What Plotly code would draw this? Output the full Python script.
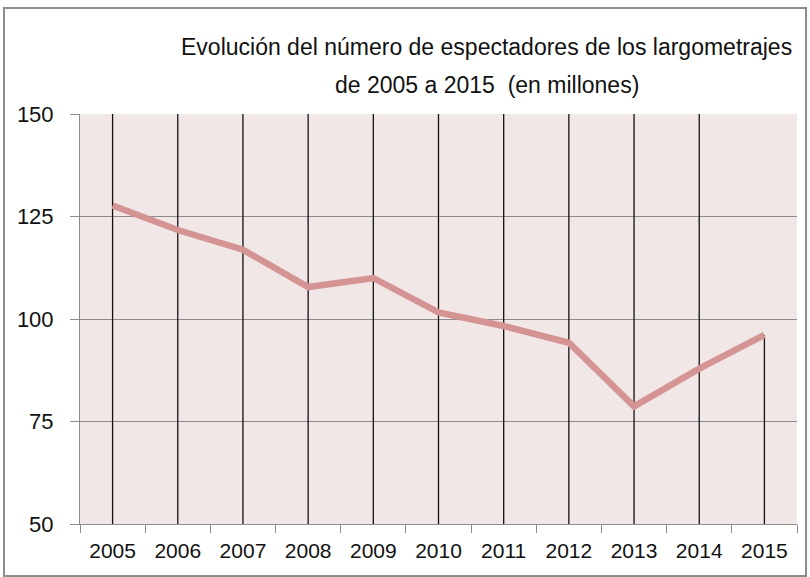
import plotly.graph_objects as go

years = [2005, 2006, 2007, 2008, 2009, 2010, 2011, 2012, 2013, 2014, 2015]
spectators = [127.7, 121.7, 116.9, 107.8, 110.0, 101.6, 98.3, 94.2, 78.7, 87.9, 96.1]
y_ticks = [50, 75, 100, 125, 150]
title_lines = ["Evolución del número de espectadores de los largometrajes",
               "de 2005 a 2015  (en millones)"]

Y_MIN, Y_MAX = 50, 150
FONT = "Liberation Sans, Arial, sans-serif"

# vertical lines: full height except last, which drops from the point
vx, vy = [], []
for i, (yr, v) in enumerate(zip(years, spectators)):
    top = v if i == len(years) - 1 else Y_MAX
    vx += [yr, yr, None]
    vy += [Y_MIN, top, None]

fig = go.Figure()
fig.add_trace(go.Scatter(x=vx, y=vy, mode="lines",
                         line=dict(color="#111111", width=1.3),
                         hoverinfo="skip", showlegend=False))
fig.add_trace(go.Scatter(x=years, y=spectators, mode="lines",
                         line=dict(color="#d49494", width=6.5),
                         showlegend=False))

boundaries = [y - 0.5 for y in years] + [years[-1] + 0.5]

fig.update_layout(
    width=810, height=577,
    margin=dict(l=80, r=13, t=114, b=53),
    paper_bgcolor="white",
    plot_bgcolor="#f2e7e7",
    font=dict(family=FONT, size=22, color="#111111"),
    xaxis=dict(range=[years[0] - 0.5, years[-1] + 0.5],
               tickvals=years, ticktext=[str(y) for y in years],
               ticks="", showgrid=False, zeroline=False,
               showline=True, linecolor="#8c8c8c", linewidth=1,
               tickfont=dict(size=21), ticklabelstandoff=8,
               minor=dict(tickvals=boundaries, ticks="outside", ticklen=8,
                          tickcolor="#8c8c8c", showgrid=False)),
    yaxis=dict(range=[Y_MIN, Y_MAX], tickvals=y_ticks,
               ticks="outside", ticklen=9, tickcolor="#8c8c8c",
               showgrid=True, gridcolor="#8c8c8c", gridwidth=1,
               zeroline=False, showline=True, linecolor="#8c8c8c",
               linewidth=1, tickfont=dict(size=22), ticklabelstandoff=12),
    shapes=[dict(type="rect", xref="paper", yref="paper",
                 x0=-0.106, x1=1.0126, y0=-0.1268, y1=1.2585,
                 line=dict(color="#8c8c8c", width=2), layer="below")],
    annotations=[
        dict(text=title_lines[0], xref="paper", yref="paper",
             x=0.5676, y=1.1634, xanchor="center", yanchor="middle",
             showarrow=False, font=dict(size=23)),
        dict(text=title_lines[1], xref="paper", yref="paper",
             x=0.5676, y=1.0707, xanchor="center", yanchor="middle",
             showarrow=False, font=dict(size=23)),
    ],
)

fig.write_html("out.html",
               config={"displayModeBar": False},
               post_script="document.body.style.margin='0';")
